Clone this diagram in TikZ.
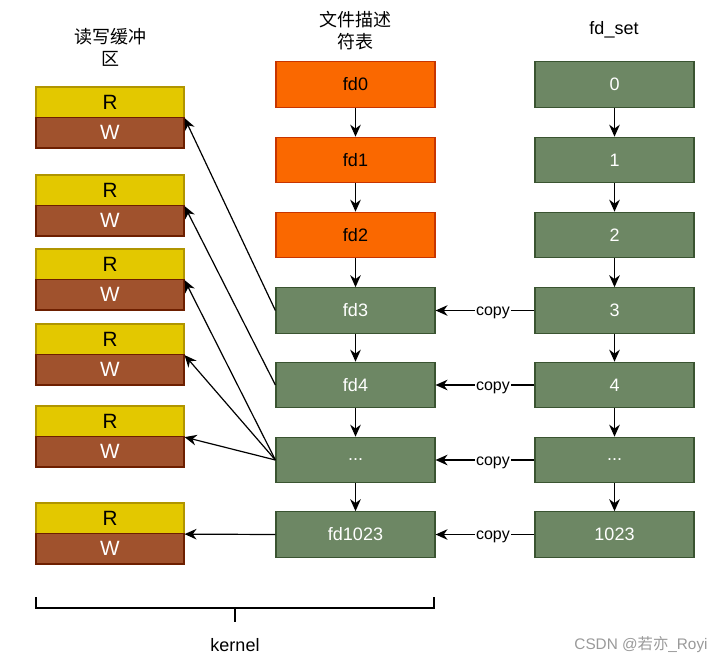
\documentclass[tikz,border=0pt]{standalone}
\usepackage{fontspec}
\setmainfont{Liberation Sans}
\newfontfamily\cjk{Noto Sans CJK SC}
\usetikzlibrary{arrows.meta}
\definecolor{orfill}{HTML}{FA6800}
\definecolor{ordraw}{HTML}{C73500}
\definecolor{grfill}{HTML}{6D8764}
\definecolor{grdraw}{HTML}{3A5431}
\definecolor{yefill}{HTML}{E3C800}
\definecolor{yedraw}{HTML}{B09500}
\definecolor{brfill}{HTML}{A0522D}
\definecolor{brdraw}{HTML}{6D1F00}
\begin{document}
\begin{tikzpicture}[x=0.75pt,y=-0.75pt,
  base/.style={line width=0.9pt, inner sep=0pt, font=\fontsize{13.5}{16}\selectfont},
  orbox/.style={base, draw=ordraw, fill=orfill, minimum width=119.25pt, minimum height=34.1pt, text=black},
  grbox/.style={base, draw=grdraw, fill=grfill, minimum width=119.25pt, minimum height=34.1pt, text=white},
  rbox/.style={base, draw=yedraw, fill=yefill, minimum width=111pt, minimum height=22.9pt, text=black, font=\fontsize{15.5}{18}\selectfont},
  wbox/.style={base, draw=brdraw, fill=brfill, minimum width=111pt, minimum height=22.9pt, text=white, font=\fontsize{15.5}{18}\selectfont},
  heading/.style={align=center, font=\fontsize{13.5}{16.5}\selectfont},
  arr/.style={-{Stealth[length=9pt,width=8pt]}, line width=0.9pt},
  copylbl/.style={fill=white, inner sep=1pt, yshift=-2pt, font=\fontsize{12}{14}\selectfont}
]
\useasboundingbox (0,0) rectangle (727,667);

% headings
\node[heading] (h1) at (110,47) {\cjk 读写缓冲\\\cjk 区};
\node[heading] (h2) at (355,31) {\cjk 文件描述\\\cjk 符表};
\node[heading] (h3) at (614,30) {fd\_set};

% middle column
\node[orbox] (m0) at (355.5,84.5) {fd0};
\node[orbox] (m1) at (355.5,160) {fd1};
\node[orbox] (m2) at (355.5,235) {fd2};
\node[grbox] (m3) at (355.5,310.5) {fd3};
\node[grbox] (m4) at (355.5,385) {fd4};
\node[grbox] (m5) at (355.5,460) {...};
\node[grbox] (m6) at (355.5,534.5) {fd1023};

% right column
\node[grbox] (s0) at (614.5,84.5) {0};
\node[grbox] (s1) at (614.5,160) {1};
\node[grbox] (s2) at (614.5,235) {2};
\node[grbox] (s3) at (614.5,310.5) {3};
\node[grbox] (s4) at (614.5,385) {4};
\node[grbox] (s5) at (614.5,460) {...};
\node[grbox] (s6) at (614.5,534.5) {1023};

% read/write buffers
\foreach \i/\t in {1/87,2/175,3/249,4/324,5/406,6/503}{
  \node[rbox] (r\i) at (110,\t+15.25) {R};
  \node[wbox] (w\i) at (110,\t+45.75) {W};
}

% vertical arrows
\foreach \a/\b in {0/1,1/2,2/3,3/4,4/5,5/6}{
  \draw[arr] (m\a) -- (m\b);
  \draw[arr] (s\a) -- (s\b);
}

% copy arrows
\foreach \i in {3,4,5,6}{
  \draw[arr] (s\i) -- node[copylbl, pos=0.42] {copy} (m\i);
}

% arrows to buffers
\draw[arr] (m3.west) -- (r1.south east);
\draw[arr] (m4.west) -- (r2.south east);
\draw[arr] (m5.west) -- (r3.south east);
\draw[arr] (m5.west) -- (r4.south east);
\draw[arr] (m5.west) -- (r5.south east);
\draw[arr] (m6.west) -- (r6.south east);

% kernel brace
\draw[line width=2.2pt] (36,597) -- (36,608) -- (434,608) -- (434,597);
\draw[line width=2.2pt] (235,608) -- (235,622);
\node[font=\fontsize{13.5}{16}\selectfont] (k) at (235,645) {kernel};

% watermark
\node[text=black!40, font=\fontsize{11.5}{14}\selectfont] (wm) at (641,645) {CSDN @{\cjk 若亦}\_Royi};
\end{tikzpicture}
\end{document}
